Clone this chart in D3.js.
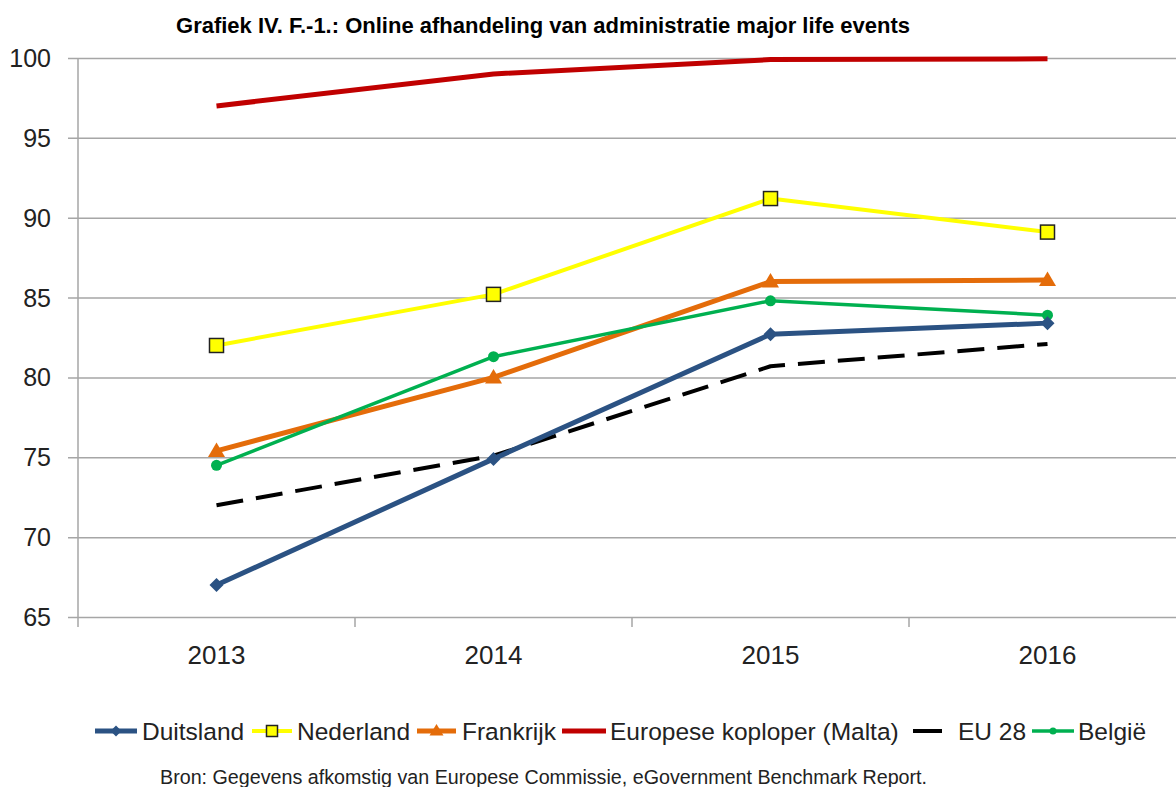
<!DOCTYPE html>
<html>
<head>
<meta charset="utf-8">
<script src="https://cdn.jsdelivr.net/npm/d3@7"></script>
<style>
  body { margin: 0; background: #fff; }
  svg { display: block; font-family: "Liberation Sans", Arial, sans-serif; }
</style>
</head>
<body>
<div id="chart"></div>
<script>
(function(){
  var width = 1176,
    height = 787;

  // data
  var years = ["2013", "2014", "2015", "2016"];
  var yTicks = [65, 70, 75, 80, 85, 90, 95, 100];
  var duitsland = [67.0, 74.9, 82.7, 83.4];
  var nederland = [82.0, 85.2, 91.2, 89.1];
  var frankrijk = [75.4, 80.0, 86.0, 86.1];
  var malta = [97.0, 99.0, 99.9, 99.95];
  var eu28 = [72.0, 75.1, 80.7, 82.1];
  var belgie = [74.5, 81.3, 84.8, 83.9];

  var series = [
    {name: "Duitsland", values: duitsland, color: "#2b5283", width: 5, marker: "diamond"},
    {name: "Nederland", values: nederland, color: "#ffff00", width: 4, marker: "square"},
    {name: "Frankrijk", values: frankrijk, color: "#e46c0a", width: 5, marker: "triangle"},
    {name: "Europese koploper (Malta)", values: malta, color: "#c00000", width: 5, marker: null},
    {name: "EU 28", values: eu28, color: "#000000", width: 4, marker: null, dash: "27,13"},
    {name: "België", values: belgie, color: "#00b050", width: 3.5, marker: "circle"}
  ];

  var svg = d3.select("#chart")
    .append("svg")
    .attr("width", width)
    .attr("height", height)

  var x = d3.scaleBand().domain(years).range([78, 1186]).paddingInner(0).paddingOuter(0)
  var y = d3.scaleLinear().domain([65, 100]).range([617, 58])
  var cx = function(yr){ return x(yr) + x.bandwidth() / 2; }

  // title
  svg.append("text")
    .attr("x", 543)
    .attr("y", 33)
    .attr("text-anchor", "middle")
    .style("font-family", "'Liberation Sans Narrow', 'Arial Narrow', sans-serif")
    .style("font-weight", "bold")
    .style("font-size", "22px")
    .text("Grafiek IV. F.-1.: Online afhandeling van administratie major life events")

  // gridlines + y axis
  var yAxis = d3.axisLeft(y).tickValues(yTicks).tickSize(-(1186 - 78)).tickPadding(27)
  var gy = svg.append("g").attr("transform", "translate(78,0)").call(yAxis)
  gy.select(".domain").remove()
  gy.selectAll(".tick line").attr("stroke", "#a6a6a6").attr("stroke-width", 1.5).attr("x1", -10)
  gy.selectAll(".tick text")
    .style("font-size", "25px").attr("fill", "#222").attr("dy", "0.34em")

  svg.append("line")
    .attr("x1", 78).attr("x2", 78)
    .attr("y1", 58).attr("y2", 627)
    .attr("stroke", "#a6a6a6").attr("stroke-width", 1.5)

  // x axis with boundary ticks
  var gx = svg.append("g").attr("transform", "translate(0,617)")
  gx.selectAll(".sep")
    .data(years.slice(1))
    .enter().append("line")
    .attr("class", "sep")
    .attr("x1", function(d){ return x(d); })
    .attr("x2", function(d){ return x(d); })
    .attr("y1", 0).attr("y2", 10)
    .attr("stroke", "#a6a6a6").attr("stroke-width", 1.5)
  gx.selectAll(".yr")
    .data(years)
    .enter().append("text")
    .attr("class", "yr")
    .attr("x", cx)
    .attr("y", 47)
    .attr("text-anchor", "middle")
    .style("font-size", "26px")
    .attr("fill", "#222")
    .text(function(d){ return d; })

  var line = d3.line()
    .x(function(d, i){ return cx(years[i]); })
    .y(function(d){ return y(d); })

  function drawMarker(sel, type, color, size) {
    var s = size;
    if (type === "diamond") {
      sel.append("path").attr("d", "M0," + (-s) + "L" + s + ",0L0," + s + "L" + (-s) + ",0Z").attr("fill", color)
    } else if (type === "square") {
      sel.append("rect").attr("x", -s).attr("y", -s).attr("width", 2 * s).attr("height", 2 * s)
        .attr("fill", color).attr("stroke", "#222").attr("stroke-width", 1.5)
    } else if (type === "triangle") {
      sel.append("path").attr("d", "M0," + (-s - 1.5) + "L" + (s + 1.5) + "," + (s - 1) + "L" + (-s - 1.5) + "," + (s - 1) + "Z").attr("fill", color)
    } else if (type === "circle") {
      sel.append("circle").attr("r", s - 1.5).attr("fill", color)
    }
  }

  var lineOrder = [3, 1, 2, 5, 4, 0]
  lineOrder.forEach(function(k){
    var s = series[k];
    svg.append("path")
      .datum(s.values)
      .attr("d", line)
      .attr("fill", "none")
      .attr("stroke", s.color)
      .attr("stroke-width", s.width)
      .attr("stroke-dasharray", s.dash || null)
      .attr("stroke-linejoin", "round")
    if (s.marker) {
      s.values.forEach(function(v, i){
        var g = svg.append("g").attr("transform", "translate(" + cx(years[i]) + "," + y(v) + ")")
        drawMarker(g, s.marker, s.color, 7)
      })
    }
  })

  // legend: [line start, line end, text start]
  var legendPos = [[95, 137, 142], [252, 292, 297], [417, 456, 462], [562, 606, 610], [913, 942, 958], [1032, 1074, 1078]]
  var legend = svg.append("g").attr("transform", "translate(0,731)")
  series.forEach(function(s, i){
    var p = legendPos[i];
    var g = legend.append("g")
    g.append("line")
      .attr("x1", p[0]).attr("x2", p[1])
      .attr("y1", 0).attr("y2", 0)
      .attr("stroke", s.color)
      .attr("stroke-width", s.width)
    if (s.marker) {
      var m = g.append("g").attr("transform", "translate(" + ((p[0] + p[1]) / 2) + ",0)")
      drawMarker(m, s.marker, s.color, s.marker === "circle" ? 5 : 5.5)
    }
    g.append("text")
      .attr("x", p[2])
      .attr("y", 0)
      .attr("dy", "0.36em")
      .style("font-size", "24.5px")
      .attr("fill", "#222")
      .text(s.name)
  })

  svg.append("text")
    .attr("x", 160)
    .attr("y", 784)
    .style("font-size", "19.7px")
    .attr("fill", "#222")
    .text("Bron: Gegevens afkomstig van Europese Commissie, eGovernment Benchmark Report.")
})();
</script>
</body>
</html>
